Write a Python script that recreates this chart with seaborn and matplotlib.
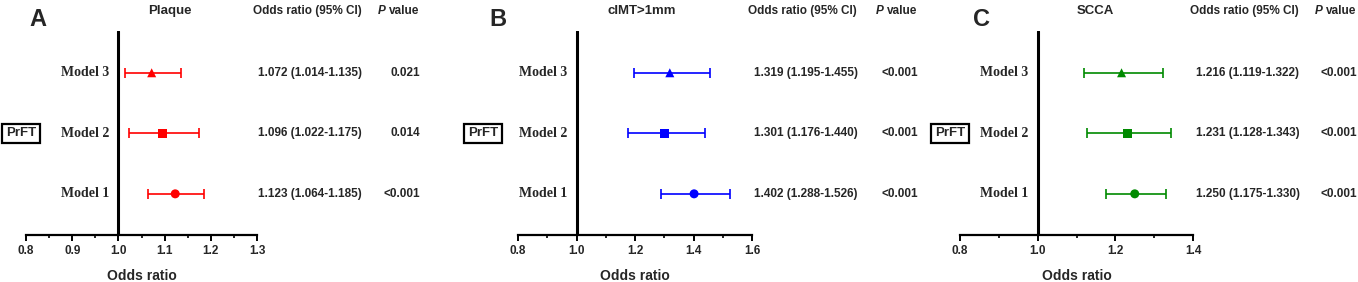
import matplotlib
matplotlib.use("Agg")
import matplotlib.pyplot as plt
import matplotlib.transforms as mtransforms
from matplotlib.ticker import MultipleLocator
import seaborn as sns

# data (rows: Model 1, Model 2, Model 3)
models = ["Model 1", "Model 2", "Model 3"]
row_pos = [1, 2, 3]

plaque_or = [1.123, 1.096, 1.072]
plaque_lo = [1.064, 1.022, 1.014]
plaque_hi = [1.185, 1.175, 1.135]
plaque_p = ["<0.001", "0.014", "0.021"]

cimt_or = [1.402, 1.301, 1.319]
cimt_lo = [1.288, 1.176, 1.195]
cimt_hi = [1.526, 1.440, 1.455]
cimt_p = ["<0.001", "<0.001", "<0.001"]

scca_or = [1.250, 1.231, 1.216]
scca_lo = [1.175, 1.128, 1.119]
scca_hi = [1.330, 1.343, 1.322]
scca_p = ["<0.001", "<0.001", "<0.001"]

W, H = 1358, 282
sns.set_style("ticks")
plt.rcParams["font.family"] = ["Liberation Sans", "DejaVu Sans"]

fig = plt.figure(figsize=(W / 100, H / 100), dpi=100)

marker_map = {"Model 1": "o", "Model 2": "s", "Model 3": "^"}

# panel layout in pixels
panels = [
    dict(letter="A", title="Plaque", ors=plaque_or, lo=plaque_lo, hi=plaque_hi, p=plaque_p,
         color="#ff0000", x0=26, x1=257, xlim=(0.8, 1.3), major=0.1, minor=0.05,
         letter_x=38, title_x=170, box_x=21, lab_x=109, val_x=310, head_x=307, p_x=420, ph_x=386),
    dict(letter="B", title="cIMT>1mm", ors=cimt_or, lo=cimt_lo, hi=cimt_hi, p=cimt_p,
         color="#0000ff", x0=518, x1=752, xlim=(0.8, 1.6), major=0.2, minor=0.1,
         letter_x=498, title_x=642, box_x=483, lab_x=567, val_x=806, head_x=802, p_x=918, ph_x=884),
    dict(letter="C", title="SCCA", ors=scca_or, lo=scca_lo, hi=scca_hi, p=scca_p,
         color="#008a00", x0=960, x1=1193, xlim=(0.8, 1.4), major=0.2, minor=0.1,
         letter_x=982, title_x=1095, box_x=950, lab_x=1028, val_x=1248, head_x=1244, p_x=1357, ph_x=1323),
]

ax_bottom_px, ax_top_px = 235, 31

for pn in panels:
    ax = fig.add_axes([pn["x0"] / W, (H - ax_bottom_px) / H,
                       (pn["x1"] - pn["x0"]) / W, (ax_bottom_px - ax_top_px) / H])
    c = pn["color"]

    # confidence intervals
    xerr = [[o - l for o, l in zip(pn["ors"], pn["lo"])],
            [h - o for o, h in zip(pn["ors"], pn["hi"])]]
    ax.errorbar(pn["ors"], row_pos, xerr=xerr, fmt="none", ecolor=c,
                elinewidth=1.2, capsize=3.4, capthick=1.2, zorder=2)
    # point estimates
    sns.scatterplot(x=pn["ors"], y=row_pos, style=models, markers=marker_map,
                    color=c, edgecolor=c, linewidth=0, s=42, legend=False, ax=ax, zorder=3)

    ax.axvline(1.0, color="black", lw=2.2, zorder=1)
    ax.set_xlim(*pn["xlim"])
    ax.set_ylim(0.32, 3.69)
    ax.set_yticks([])
    ax.set_ylabel("")
    for s in ["left", "right", "top"]:
        ax.spines[s].set_visible(False)
    ax.spines["bottom"].set_linewidth(1.6)
    ax.spines["bottom"].set_color("black")
    ax.xaxis.set_major_locator(MultipleLocator(pn["major"]))
    ax.xaxis.set_minor_locator(MultipleLocator(pn["minor"]))
    ax.tick_params(axis="x", which="major", length=4, width=1.4, color="black",
                   labelsize=8.5, pad=3)
    ax.tick_params(axis="x", which="minor", length=2.5, width=1.2, color="black")
    ax.xaxis.set_major_formatter(matplotlib.ticker.FormatStrFormatter("%.1f"))
    for lab in ax.get_xticklabels():
        lab.set_fontweight("bold")
    ax.set_xlabel("Odds ratio", fontsize=10, fontweight="bold", labelpad=9)
    ax.patch.set_alpha(0)

    # row texts, x in figure fraction, y in data
    tr = mtransforms.blended_transform_factory(fig.transFigure, ax.transData)
    for m, y, o, l, h, p in zip(models, row_pos, pn["ors"], pn["lo"], pn["hi"], pn["p"]):
        ax.text(pn["lab_x"] / W, y, m, transform=tr, ha="right", va="center",
                fontsize=10, fontweight="bold", family="Liberation Serif")
        ax.text(pn["val_x"] / W, y, f"{o:.3f} ({l:.3f}-{h:.3f})", transform=tr,
                ha="center", va="center", fontsize=8.5, fontweight="bold")
        ax.text(pn["p_x"] / W, y, p, transform=tr, ha="right", va="center",
                fontsize=8.5, fontweight="bold")
    ax.text(pn["box_x"] / W, 2, "PrFT", transform=tr, ha="center", va="center",
            fontsize=9.5, fontweight="bold",
            bbox=dict(boxstyle="square,pad=0.28", fc="white", ec="black", lw=1.6))

    # headers
    fig.text(pn["letter_x"] / W, 1 - 20 / H, pn["letter"], ha="center", va="center",
             fontsize=17, fontweight="bold")
    fig.text(pn["title_x"] / W, 1 - 11 / H, pn["title"], ha="center", va="center",
             fontsize=9.5, fontweight="bold")
    fig.text(pn["head_x"] / W, 1 - 11 / H, "Odds ratio (95% CI)", ha="center", va="center",
             fontsize=8.5, fontweight="bold")
    fig.text(pn["ph_x"] / W, 1 - 11 / H, "P", ha="right", va="center",
             fontsize=8.5, fontweight="bold", style="italic")
    fig.text((pn["ph_x"] + 3) / W, 1 - 11 / H, "value", ha="left", va="center",
             fontsize=8.5, fontweight="bold")

fig.savefig("out.png", dpi=100)
